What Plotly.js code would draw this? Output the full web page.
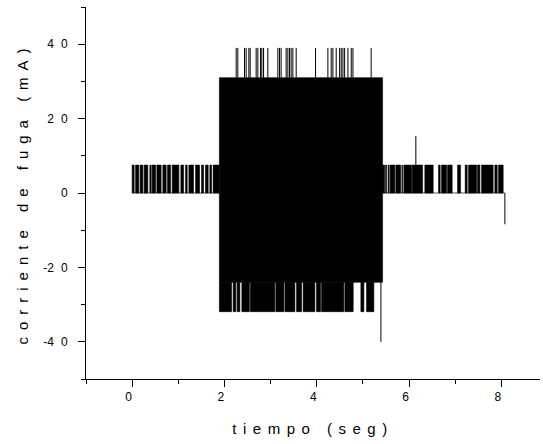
<!DOCTYPE html>
<html>
<head>
<meta charset="utf-8">
<script src="https://cdn.plot.ly/plotly-3.0.1.min.js"></script>
<style>
  html, body { margin: 0; padding: 0; background: #fff; }
  #chart { width: 543px; height: 444px; }
  .xtick text, .ytick text { letter-spacing: 7px; }
  text.xtitle { letter-spacing: 6.5px; }
  text.ytitle { letter-spacing: 7px; }
</style>
</head>
<body>
<div id="chart"></div>
<script>
// ---- data (time in s, current in mA) ----
// low-level pulses (0 -> 7.5 mA) before the fault
const preIntervals = [[0.00,0.043],[0.074,0.145],[0.173,0.232],[0.26,0.34],[0.384,0.412],[0.433,0.507],[0.535,0.628],[0.665,0.737],[0.767,0.832],[0.867,1.012],[1.055,1.114],[1.157,1.192],[1.229,1.33],[1.374,1.46],[1.504,1.547],[1.59,1.647],[1.684,1.72],[1.755,1.89]];
// low-level pulses after the fault
const postIntervals = [[5.426,5.469],[5.491,5.513],[5.547,5.569],[5.59,5.692],[5.714,5.816],[5.844,5.859],[5.887,6.054],[6.067,6.293],[6.342,6.522],[6.639,6.674],[6.704,6.812],[6.834,6.934],[7.051,7.116],[7.216,7.259],[7.289,7.463],[7.484,7.534],[7.571,7.822],[7.859,7.909],[7.939,8.039]];
const pulseLow = 0, pulseHigh = 7.5;
// dense oscillation during the fault
const faultStart = 1.89, faultEnd = 5.426;
const faultLow = -24, faultHigh = 31;
// peaks above the dense band (31 -> 39 mA)
const topPeakTimes = [2.254,2.29,2.435,2.47,2.529,2.557,2.687,2.724,2.782,2.81,2.847,2.94,3.157,3.194,3.228,3.337,3.374,3.41,3.445,3.482,3.554,3.974,4.241,4.313,4.35,4.421,4.495,4.53,4.567,4.604,4.675,4.747,4.784,5.179];
const topPeakValue = 39;
// troughs below the dense band (-24 -> -31.9 mA)
const bottomIntervals = [[1.89,2.153],[2.188,2.247],[2.275,2.334],[2.377,2.54],[2.56,3.092],[3.114,3.288],[3.31,3.526],[3.562,3.671],[3.705,3.959],[3.995,4.082],[4.104,4.587],[4.609,4.789],[4.956,5.021],[5.079,5.237]];
const bottomValue = -31.9;
// isolated spikes
const spikeTimes = [5.39, 6.147, 8.076];
const spikeFrom  = [-24, 7.5, 0];
const spikeTo    = [-40, 15.3, -8.4];
// baseline
const baseTimes = [0, 8.076];
const baseValues = [0, 0];
// ticks
const xTickVals = [0, 2, 4, 6, 8];
const xTickText = ['0', '2', '4', '6', '8'];
const xMinorVals = [-1, 1, 3, 5, 7];
const yTickVals = [-40, -20, 0, 20, 40];
const yTickText = ['<span style="letter-spacing:0px">-</span>40', '<span style="letter-spacing:0px">-</span>20', '0', '20', '40'];
const yMinorVals = [-50, -30, -10, 10, 30, 50];

// ---- build polygons / segments from the data ----
function rects(intervals, lo, hi) {
  const x = [], y = [];
  intervals.forEach(([a, b]) => {
    x.push(a, b, b, a, a, null);
    y.push(lo, lo, hi, hi, lo, null);
  });
  return {x, y};
}
function vsegs(times, from, to) {
  const x = [], y = [];
  times.forEach((t, i) => {
    x.push(t, t, null);
    y.push(Array.isArray(from) ? from[i] : from, Array.isArray(to) ? to[i] : to, null);
  });
  return {x, y};
}

const pre = rects(preIntervals, pulseLow, pulseHigh);
const post = rects(postIntervals, pulseLow, pulseHigh);
const block = rects([[faultStart, faultEnd]], faultLow, faultHigh);
const bottom = rects(bottomIntervals, bottomValue, faultLow);
const tops = vsegs(topPeakTimes, faultHigh, topPeakValue);
const spikes = vsegs(spikeTimes, spikeFrom, spikeTo);

const fillStyle = {mode: 'lines', fill: 'toself', fillcolor: 'black', line: {color: 'black', width: 0.6}, hoverinfo: 'skip', connectgaps: false};
const lineStyle = {mode: 'lines', line: {color: 'black', width: 1}, hoverinfo: 'skip', connectgaps: false};

const traces = [
  Object.assign({x: baseTimes, y: baseValues, type: 'scatter'}, {mode: 'lines', line: {color: '#333', width: 0.8}, hoverinfo: 'skip'}),
  Object.assign({x: pre.x, y: pre.y, type: 'scatter'}, fillStyle),
  Object.assign({x: post.x, y: post.y, type: 'scatter'}, fillStyle),
  Object.assign({x: block.x, y: block.y, type: 'scatter'}, fillStyle),
  Object.assign({x: bottom.x, y: bottom.y, type: 'scatter'}, fillStyle),
  Object.assign({x: tops.x, y: tops.y, type: 'scatter'}, lineStyle),
  Object.assign({x: spikes.x, y: spikes.y, type: 'scatter'}, lineStyle)
];

const axisCommon = {
  showline: true, linecolor: 'black', linewidth: 1,
  ticks: 'outside', ticklen: 7, tickwidth: 1, tickcolor: 'black',
  showgrid: false, zeroline: false, tickmode: 'array',
  tickfont: {size: 12, color: 'black'}
};

const layout = {
  width: 543, height: 444,
  margin: {l: 86, r: 3, t: 7, b: 65},
  paper_bgcolor: 'white', plot_bgcolor: 'white',
  showlegend: false,
  font: {family: '"Liberation Sans", Arial, sans-serif', color: 'black', size: 12},
  xaxis: Object.assign({}, axisCommon, {
    range: [-1, 8.837],
    tickvals: xTickVals, ticktext: xTickText,
    minor: {tickmode: 'array', tickvals: xMinorVals, ticks: 'outside', ticklen: 4, tickwidth: 1, tickcolor: 'black'},
    title: {text: 'tiempo (seg)', font: {size: 15, color: 'black'}, standoff: 20}
  }),
  yaxis: Object.assign({}, axisCommon, {
    range: [-50, 50],
    tickvals: yTickVals, ticktext: yTickText,
    ticklabelstandoff: 1,
    minor: {tickmode: 'array', tickvals: yMinorVals, ticks: 'outside', ticklen: 4, tickwidth: 1, tickcolor: 'black'},
    title: {text: 'corriente de fuga (mA)\u00a0\u00a0\u00a0', font: {size: 15, color: 'black'}, standoff: 10}
  })
};

Plotly.newPlot('chart', traces, layout, {staticPlot: true, displayModeBar: false});
</script>
</body>
</html>
